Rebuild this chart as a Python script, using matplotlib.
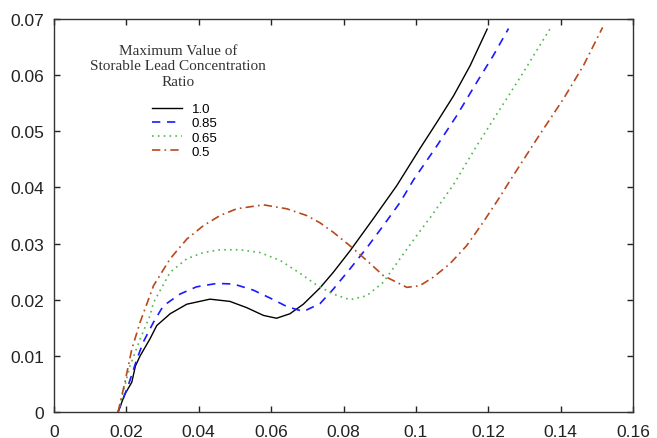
import matplotlib
matplotlib.use("Agg")
import matplotlib.pyplot as plt

# curves, one per maximum lead concentration ratio
x_10 = [0.0177, 0.0196, 0.0215, 0.0225, 0.0238, 0.0265, 0.0284, 0.0321, 0.0367, 0.0431,
        0.0486, 0.0532, 0.0579, 0.0615, 0.0652, 0.0689, 0.0735, 0.0772, 0.0818, 0.0882,
        0.0947, 0.1011, 0.1058, 0.1104, 0.1150, 0.1197]
y_10 = [0.0, 0.0032, 0.0053, 0.0082, 0.0100, 0.0130, 0.0154, 0.0175, 0.0192, 0.0201,
        0.0197, 0.0186, 0.0172, 0.0167, 0.0175, 0.0192, 0.0221, 0.0249, 0.0287, 0.0344,
        0.0403, 0.0469, 0.0516, 0.0563, 0.0617, 0.0682]

x_085 = [0.0177, 0.0205, 0.0229, 0.0247, 0.0275, 0.0302, 0.0348, 0.0394, 0.0450, 0.0496,
         0.0551, 0.0597, 0.0643, 0.0689, 0.0735, 0.0772, 0.0818, 0.0864, 0.0910,
         0.0956, 0.0993, 0.1058, 0.1113, 0.1168, 0.1214, 0.1256]
y_085 = [0.0, 0.0047, 0.0094, 0.0125, 0.0160, 0.0189, 0.0210, 0.0223, 0.0229, 0.0228,
         0.0217, 0.0203, 0.0188, 0.0179, 0.0193, 0.0219, 0.0255, 0.0292, 0.0332,
         0.0373, 0.0413, 0.0474, 0.0528, 0.0587, 0.0635, 0.0683]

x_065 = [0.0177, 0.0210, 0.0238, 0.0265, 0.0275, 0.0321, 0.0367, 0.0413, 0.0459, 0.0514,
         0.0569, 0.0625, 0.0680, 0.0726, 0.0772, 0.0818, 0.0864, 0.0910, 0.0956, 0.1002,
         0.1046, 0.1104, 0.1168, 0.1233, 0.1297, 0.1371]
y_065 = [0.0, 0.0082, 0.0130, 0.0171, 0.0195, 0.0249, 0.0273, 0.0284, 0.0289, 0.0289,
         0.0284, 0.0270, 0.0247, 0.0226, 0.0210, 0.0200, 0.0207, 0.0231, 0.0273, 0.0314,
         0.0352, 0.0405, 0.0474, 0.0540, 0.0605, 0.0683]

x_05 = [0.0177, 0.0196, 0.0215, 0.0238, 0.0275, 0.0321, 0.0367, 0.0413, 0.0459, 0.0505,
        0.0579, 0.0643, 0.0698, 0.0735, 0.0772, 0.0818, 0.0864, 0.0910, 0.0975, 0.1011,
        0.1048, 0.1094, 0.1140, 0.1186, 0.1233, 0.1260, 0.1334, 0.1408, 0.1463, 0.1516]
y_05 = [0.0, 0.0053, 0.0112, 0.0160, 0.0225, 0.0273, 0.0308, 0.0332, 0.0350, 0.0362,
        0.0369, 0.0362, 0.0350, 0.0337, 0.0320, 0.0296, 0.0270, 0.0243, 0.0222, 0.0225,
        0.0240, 0.0264, 0.0296, 0.0338, 0.0384, 0.0412, 0.0486, 0.0558, 0.0617, 0.0685]

labels = ["1.0", "0.85", "0.65", "0.5"]
x_ticks = [0, 0.02, 0.04, 0.06, 0.08, 0.1, 0.12, 0.14, 0.16]
x_tick_labels = ["0", "0.02", "0.04", "0.06", "0.08", "0.1", "0.12", "0.14", "0.16"]
y_ticks = [0, 0.01, 0.02, 0.03, 0.04, 0.05, 0.06, 0.07]
y_tick_labels = ["0", "0.01", "0.02", "0.03", "0.04", "0.05", "0.06", "0.07"]

plt.rcParams['font.family'] = ['Liberation Sans', 'DejaVu Sans']

fig = plt.figure(figsize=(6.57, 4.39), dpi=100)
ax = fig.add_axes([54 / 657, 1 - 413 / 439, 579 / 657, 393 / 439])

ax.plot(x_10, y_10, color='black', lw=1.0, label=labels[0])
ax.plot(x_085, y_085, color='#1a1aff', lw=1.2, ls=(0, (5, 4)), label=labels[1])
ax.plot(x_065, y_065, color='#4db84d', lw=1.2, ls=(0, (1, 2.5)), label=labels[2])
ax.plot(x_05, y_05, color='#b8491c', lw=1.2, ls=(0, (5, 2.5, 1, 2.5)), label=labels[3])

ax.set_xlim(0, 0.16)
ax.set_ylim(0, 0.07)
ax.set_xticks(x_ticks)
ax.set_xticklabels(x_tick_labels)
ax.set_yticks(y_ticks)
ax.set_yticklabels(y_tick_labels)
ax.tick_params(direction='in', length=4, width=1, top=True, right=True,
               labelsize=12.5, colors='#222222')
ax.tick_params(axis='x', pad=9)
ax.tick_params(axis='y', pad=7)
for sp in ax.spines.values():
    sp.set_linewidth(1.0)
    sp.set_color('#333333')

fig.text(178 / 657, 1 - 67 / 439, "Maximum Value of\nStorable Lead Concentration\nRatio",
         ha='center', va='center', fontsize=11, family='Liberation Serif',
         color='#333333', linespacing=1.22)

leg = ax.legend(loc='upper left', bbox_to_anchor=(152 / 657, 1 - 104 / 439),
                bbox_transform=fig.transFigure, frameon=False, fontsize=9.5,
                handlelength=2.3, handletextpad=0.7, labelspacing=0.15,
                borderpad=0, borderaxespad=0)

fig.savefig("out.png", dpi=100)
